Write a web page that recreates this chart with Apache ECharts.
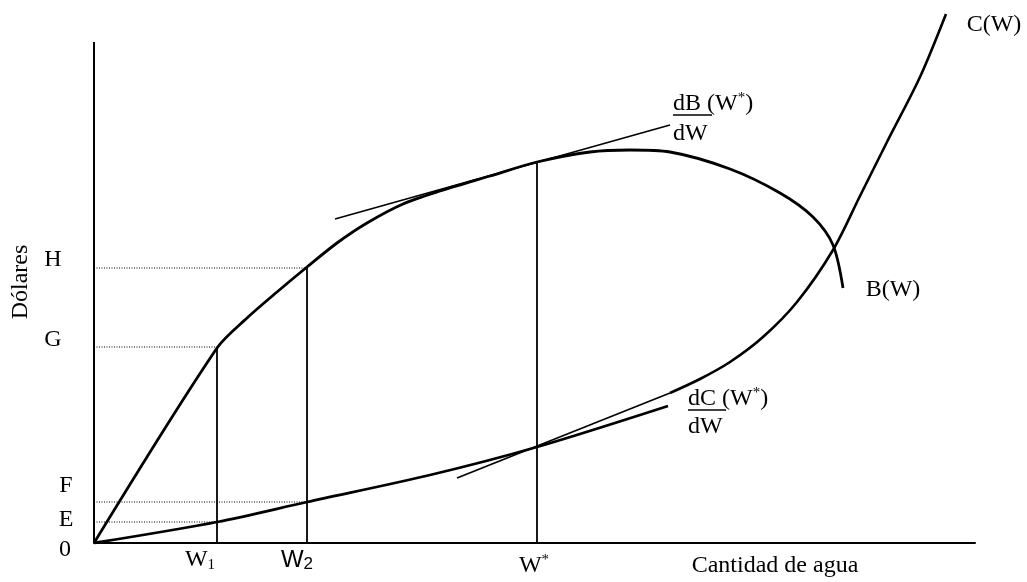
<!DOCTYPE html>
<html>
<head>
<meta charset="utf-8">
<script src="https://cdn.jsdelivr.net/npm/echarts@6/dist/echarts.min.js"></script>
<style>
  html, body { margin: 0; padding: 0; background: #fff; }
  #chart { width: 1027px; height: 582px; }
</style>
</head>
<body>
<div id="chart"></div>
<script>
// curva de beneficios B(W)
const bCurve = [
  [0, 0], [123, 195], [153, 225], [183, 251], [213, 276], [243, 300],
  [273, 320], [309, 339], [346, 352], [396, 367], [443, 381], [496, 391],
  [536, 393], [576, 391], [636, 374], [686, 350], [719, 326], [739, 298],
  [749, 255]
];
// curva de costes C(W), tramo bajo y tramo alto
const cLow = [[0, 0], [123, 21], [213, 41], [336, 68], [443, 96], [574, 137]];
const cHigh = [
  [576, 150], [606, 164], [636, 181], [669, 206], [703, 241], [739, 293],
  [766, 347], [793, 401], [826, 466], [852, 529]
];
// tangentes en W*
const tangentB = [[241, 324], [576, 418]];
const tangentC = [[363, 65], [576, 150]];

// W1, W2, W* y sus alturas en B(W)
const wValues = [123, 213, 443];
const wTops = [195, 276, 381];
// niveles H, G (en B) y F, E (en C): [altura, hasta x]
const hLevels = [[275, 213], [196, 123], [41, 213], [21, 123]];
const yAxisTop = 501;

const myChart = echarts.init(document.getElementById('chart'));

const serif = 'Liberation Serif';
const sans = 'Liberation Sans';

// series auxiliares
const lineSeries = (data, width, type) => ({
  type: 'line',
  data: data,
  symbol: 'none',
  silent: true,
  animation: false,
  lineStyle: { color: '#000', width: width, type: type || 'solid' }
});

const series = [
  lineSeries([[0, 0], [0, yAxisTop]], 2),
  Object.assign(lineSeries(bCurve, 2.8), { smooth: 0.3 }),
  Object.assign(lineSeries(cLow, 2.8), { smooth: 0.3 }),
  Object.assign(lineSeries(cHigh, 2.6), { smooth: 0.3 }),
  lineSeries(tangentB, 1.7),
  lineSeries(tangentC, 1.7)
];
wValues.forEach((w, i) => {
  series.push(lineSeries([[w, 0], [w, wTops[i]]], 1.8));
});
hLevels.forEach(([y, x]) => {
  series.push(lineSeries([[0, y], [x, y]], 1, [1, 1.5]));
});

const txt = (text, x, y, opts, el) => Object.assign({
  type: 'text',
  x: x,
  y: y,
  silent: true,
  style: Object.assign({
    text: text,
    font: '24px ' + serif,
    fill: '#000',
    align: 'center',
    verticalAlign: 'middle'
  }, opts || {})
}, el || {});

const rich = {
  m: { fontFamily: serif, fontSize: 24, lineHeight: 26, fill: '#000' },
  s: { fontFamily: serif, fontSize: 15, lineHeight: 26, verticalAlign: 'top', fill: '#000' },
  b: { fontFamily: serif, fontSize: 15, lineHeight: 26, verticalAlign: 'bottom', fill: '#000' },
  n: { fontFamily: sans, fontSize: 24, lineHeight: 26, fill: '#000' },
  nb: { fontFamily: sans, fontSize: 17, lineHeight: 26, verticalAlign: 'bottom', fill: '#000' }
};

const option = {
  backgroundColor: '#fff',
  animation: false,
  grid: { left: 94, right: 52, top: 0, bottom: 39 },
  xAxis: {
    type: 'value',
    min: 0,
    max: 881,
    axisLine: { show: true, onZero: false, lineStyle: { color: '#000', width: 2 } },
    axisTick: { show: false },
    axisLabel: { show: false },
    splitLine: { show: false }
  },
  yAxis: {
    type: 'value',
    min: 0,
    max: 543,
    axisLine: { show: false },
    axisTick: { show: false },
    axisLabel: { show: false },
    splitLine: { show: false }
  },
  series: series,
  graphic: [
    // texto vertical, de abajo hacia arriba
    txt('Dólares', 21, 282, null, { rotation: Math.PI / 2 }),
    txt('H', 53, 260),
    txt('G', 53, 340),
    txt('F', 66, 486),
    txt('E', 66, 520),
    txt('0', 65, 550),
    txt('{m|W}{b|1}', 200, 560, { rich: rich }),
    txt('{n|W}{nb|2}', 297, 560, { rich: rich }),
    txt('{m|W}{s|*}', 534, 566, { rich: rich }),
    txt('Cantidad de agua', 775, 566),
    txt('C(W)', 994, 25),
    txt('B(W)', 893, 290),
    txt('{m|dB }{m|(W}{s|*}{m|)}', 673, 104, { rich: rich, align: 'left' }),
    txt('dW', 673, 134, { align: 'left' }),
    { type: 'line', silent: true, shape: { x1: 673, y1: 115, x2: 712, y2: 115 }, style: { stroke: '#000', lineWidth: 1.5 } },
    txt('{m|dC }{m|(W}{s|*}{m|)}', 688, 399, { rich: rich, align: 'left' }),
    txt('dW', 688, 427, { align: 'left' }),
    { type: 'line', silent: true, shape: { x1: 688, y1: 410, x2: 726, y2: 410 }, style: { stroke: '#000', lineWidth: 1.5 } }
  ]
};

myChart.setOption(option);
</script>
</body>
</html>
